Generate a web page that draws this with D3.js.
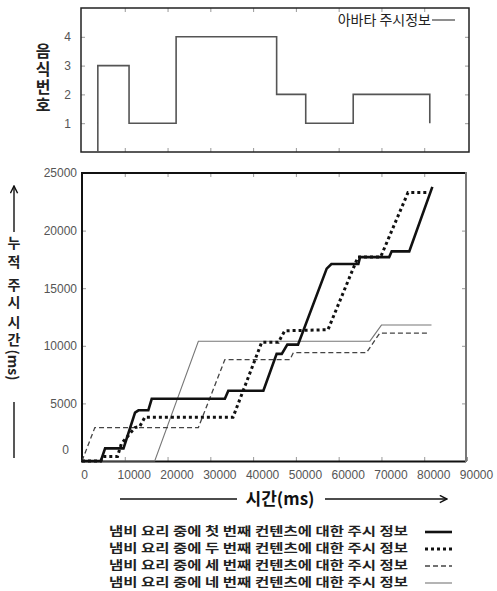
<!DOCTYPE html>
<html>
<head>
<meta charset="utf-8">
<script src="https://cdn.jsdelivr.net/npm/d3@7"></script>
<style>
  body { margin: 0; background: #fff; }
  svg { display: block; }
  .tick text { fill: #555; font-family: "Liberation Sans", Arial, sans-serif; font-size: 12px; }
  .tick line { stroke: #999; }
  .domain { display: none; }
  .vlabel { writing-mode: vertical-rl; text-orientation: upright; }
</style>
</head>
<body>
<div id="chart"></div>
<script>
// food number the avatar looks at (step chart)
const foodTimes = [3700, 3700, 11000, 22000, 45500, 52300, 63400, 81300];
const foodValues = [0, 3, 1, 4, 2, 1, 2, 1];
const foodTicks = [1, 2, 3, 4];

// cumulative gaze time per content [time(ms), cumulative(ms)]
const gaze1 = [[0,0],[4400,0],[5400,1100],[9700,1100],[12400,4200],[13200,4400],[15500,4400],[16300,5400],
  [33400,5400],[34200,6100],[42400,6100],[45500,9300],[46700,9300],[48000,10100],[50500,10100],
  [57200,16700],[58300,17100],[64600,17100],[65000,17700],[71800,17700],[72400,18200],[76500,18200],[81900,23800]];
const gaze2 = [[0,0],[4400,0],[5000,400],[8300,400],[9200,1500],[12400,2900],[13500,3000],[14700,3800],
  [35300,3800],[42000,10300],[45900,10300],[47400,11300],[57500,11400],[64500,17700],[69800,17700],
  [76200,23300],[81100,23300]];
const gaze3 = [[0,0],[3000,2900],[27200,2900],[33400,8800],[48600,8800],[49400,9400],[66500,9400],
  [69600,11100],[81100,11100]];
const gaze4 = [[0,0],[17000,0],[27200,10400],[67300,10400],[70000,11800],[81700,11800]];

const xTicks = [0, 10000, 20000, 30000, 40000, 50000, 60000, 70000, 80000, 90000];
const yTicks = [0, 5000, 10000, 15000, 20000, 25000];

const legendLabels = [
  '냄비 요리 중에 첫 번째 컨텐츠에 대한 주시 정보',
  '냄비 요리 중에 두 번째 컨텐츠에 대한 주시 정보',
  '냄비 요리 중에 세 번째 컨텐츠에 대한 주시 정보',
  '냄비 요리 중에 네 번째 컨텐츠에 대한 주시 정보'
];
const seriesStyles = [
  { data: gaze1, color: '#111', width: 2.6, dash: null },
  { data: gaze2, color: '#111', width: 3, dash: '3,3' },
  { data: gaze3, color: '#444', width: 1.3, dash: '5,3' },
  { data: gaze4, color: '#777', width: 1.1, dash: null }
];

const W = 497, H = 591;
const korean = '"Noto Sans CJK KR", "Noto Sans", sans-serif';
const fmt = d3.format('d');

const svg = d3.select('#chart').append('svg')
  .attr('width', W)
  .attr('height', H);

// vertical label with upright glyphs
function verticalLabel(str, cx, top, size, spacing) {
  svg.append('text')
    .attr('class', 'vlabel')
    .attr('x', cx)
    .attr('y', top)
    .attr('font-family', korean)
    .attr('font-size', size)
    .attr('font-weight', 'bold')
    .attr('letter-spacing', spacing)
    .attr('fill', '#222')
    .text(str);
}

// shared x scale
const x = d3.scaleLinear().domain([0, 90000]).range([82, 467]);

// ---------- top chart ----------
const topY = d3.scaleLinear().domain([0, 5]).range([152, 8]);

svg.append('g')
  .attr('transform', 'translate(0,152)')
  .call(d3.axisBottom(x).tickValues(xTicks.slice(1, -1)).tickSize(-4).tickFormat(''));
svg.append('g')
  .attr('transform', 'translate(0,8)')
  .call(d3.axisTop(x).tickValues(xTicks.slice(1, -1)).tickSize(-4).tickFormat(''));
svg.append('g')
  .attr('transform', 'translate(81,0)')
  .call(d3.axisLeft(topY).tickValues(foodTicks).tickSize(-4).tickPadding(10).tickFormat(fmt));
svg.append('g')
  .attr('transform', 'translate(469,0)')
  .call(d3.axisRight(topY).tickValues(foodTicks).tickSize(-4).tickFormat(''));

// frame
svg.append('rect')
  .attr('x', 81).attr('y', 8)
  .attr('width', 388).attr('height', 144)
  .attr('fill', 'none')
  .attr('stroke', '#222')
  .attr('stroke-width', 1.5);

const stepLine = d3.line()
  .x(d => x(d[0]))
  .y(d => topY(d[1]))
  .curve(d3.curveStepAfter);

svg.append('path')
  .datum(foodTimes.map((t, i) => [t, foodValues[i]]))
  .attr('d', stepLine)
  .attr('fill', 'none')
  .attr('stroke', '#555')
  .attr('stroke-width', 1.6);

// top legend
svg.append('text')
  .attr('x', 431)
  .attr('y', 25)
  .attr('text-anchor', 'end')
  .attr('font-family', korean)
  .attr('font-size', 14)
  .attr('fill', '#222')
  .text('아바타 주시정보');
svg.append('line')
  .attr('x1', 432).attr('x2', 455)
  .attr('y1', 20).attr('y2', 20)
  .attr('stroke', '#444')
  .attr('stroke-width', 1.2);

// top y label
verticalLabel('음식번호', 43, 43, 16, 2);

// ---------- main chart ----------
const y = d3.scaleLinear().domain([0, 25000]).range([461, 173]);

const bottomAxis = svg.append('g')
  .attr('transform', 'translate(0,461)')
  .call(d3.axisBottom(x).tickValues(xTicks).tickSize(-4).tickPadding(9).tickFormat(fmt));
bottomAxis.selectAll('.tick text')
  .attr('dx', d => d === 0 ? 2 : 9);
svg.append('g')
  .attr('transform', 'translate(0,173)')
  .call(d3.axisTop(x).tickValues(xTicks.slice(1, -1)).tickSize(-4).tickFormat(''));
const leftAxis = svg.append('g')
  .attr('transform', 'translate(82,0)')
  .call(d3.axisLeft(y).tickValues(yTicks).tickSize(-4).tickPadding(5).tickFormat(fmt));
leftAxis.selectAll('.tick text')
  .attr('dy', d => d === 0 ? '-0.6em' : '0.32em')
  .attr('dx', d => d === 0 ? -8 : 0);
svg.append('g')
  .attr('transform', 'translate(466,0)')
  .call(d3.axisRight(y).tickValues(yTicks.slice(1, -1)).tickSize(-4).tickFormat(''));

// frame: bold left/top/bottom, grey right
svg.append('path')
  .attr('d', 'M466,173 L82,173 L82,461.5 L466,461.5')
  .attr('fill', 'none')
  .attr('stroke', '#111')
  .attr('stroke-width', 2);
svg.append('line')
  .attr('x1', 466).attr('x2', 466)
  .attr('y1', 172).attr('y2', 462)
  .attr('stroke', '#777')
  .attr('stroke-width', 2);

const line = d3.line()
  .x(d => x(d[0]))
  .y(d => y(d[1]));

// draw thin lines first so the bold ones sit on top
seriesStyles.slice().reverse().forEach(s => {
  svg.append('path')
    .datum(s.data)
    .attr('d', line)
    .attr('fill', 'none')
    .attr('stroke', s.color)
    .attr('stroke-width', s.width)
    .attr('stroke-dasharray', s.dash);
});

// arrow marker
svg.append('defs').append('marker')
  .attr('id', 'arrow')
  .attr('viewBox', '0 0 10 10')
  .attr('refX', 9).attr('refY', 5)
  .attr('markerWidth', 9).attr('markerHeight', 9)
  .attr('markerUnits', 'userSpaceOnUse')
  .attr('orient', 'auto')
  .append('path')
  .attr('d', 'M1,1 L9,5 L1,9')
  .attr('fill', 'none')
  .attr('stroke', '#111')
  .attr('stroke-width', 1.6);

// x axis title with arrow
svg.append('line')
  .attr('x1', 120).attr('x2', 237)
  .attr('y1', 499).attr('y2', 499)
  .attr('stroke', '#111').attr('stroke-width', 1.4);
svg.append('text')
  .attr('x', 280)
  .attr('y', 505)
  .attr('text-anchor', 'middle')
  .attr('font-family', korean)
  .attr('font-size', 17)
  .attr('font-weight', 'bold')
  .attr('fill', '#111')
  .text('시간(ms)');
svg.append('line')
  .attr('x1', 325).attr('x2', 447)
  .attr('y1', 499).attr('y2', 499)
  .attr('stroke', '#111').attr('stroke-width', 1.4)
  .attr('marker-end', 'url(#arrow)');

// y axis title with arrow
svg.append('line')
  .attr('x1', 14).attr('x2', 14)
  .attr('y1', 232).attr('y2', 186)
  .attr('stroke', '#111').attr('stroke-width', 1.4)
  .attr('marker-end', 'url(#arrow)');
verticalLabel('누적', 14, 236, 14, 5);
verticalLabel('주시', 14, 278, 14, 3);
verticalLabel('시간', 14, 315, 14, 4);
svg.append('text')
  .attr('transform', 'translate(14,365) rotate(90)')
  .attr('text-anchor', 'middle')
  .attr('dominant-baseline', 'central')
  .attr('font-family', korean)
  .attr('font-size', 14)
  .attr('font-weight', 'bold')
  .attr('fill', '#222')
  .text('(ms)');
svg.append('line')
  .attr('x1', 14).attr('x2', 14)
  .attr('y1', 402).attr('y2', 458)
  .attr('stroke', '#111').attr('stroke-width', 1.4);

// bottom legend
const legend = svg.append('g');
legendLabels.forEach((label, i) => {
  const ly = 536 + i * 17;
  legend.append('text')
    .attr('x', 109)
    .attr('y', ly)
    .attr('font-family', korean)
    .attr('font-size', 12)
    .attr('font-weight', 'bold')
    .attr('fill', '#222')
    .attr('textLength', 299)
    .attr('lengthAdjust', 'spacingAndGlyphs')
    .text(label);
  const s = seriesStyles[i];
  legend.append('line')
    .attr('x1', 425).attr('x2', 452)
    .attr('y1', ly - 4).attr('y2', ly - 4)
    .attr('stroke', s.color)
    .attr('stroke-width', s.width)
    .attr('stroke-dasharray', s.dash);
});
</script>
</body>
</html>
